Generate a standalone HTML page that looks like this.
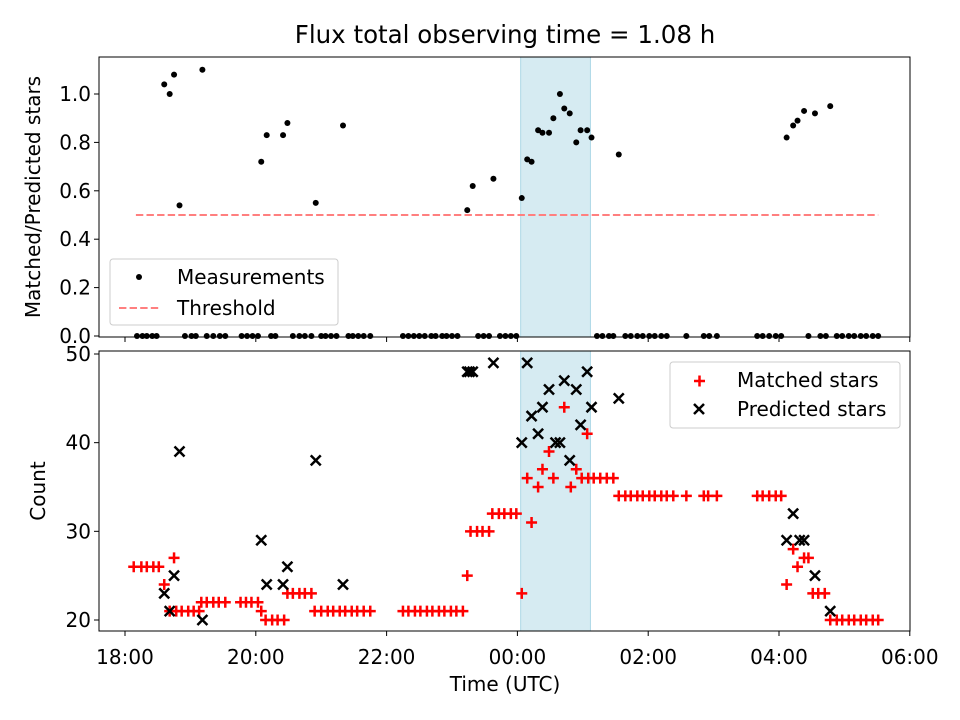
<!DOCTYPE html>
<html><head><meta charset="utf-8"><style>
body{margin:0;background:#fff}
svg{font-family:"DejaVu Sans","Liberation Sans",sans-serif;display:block}
</style></head><body>
<svg id="chart" width="960" height="720" viewBox="0 0 960 720">
<rect width="960" height="720" fill="#fff"/>
<text x="505" y="43" font-size="24.5" text-anchor="middle">Flux total observing time = 1.08 h</text>
<g id="gtop"></g><g id="gbot"></g>
<text x="505" y="691" font-size="20" text-anchor="middle">Time (UTC)</text>
<text transform="translate(40,197) rotate(-90)" font-size="20" text-anchor="middle">Matched/Predicted stars</text>
<text transform="translate(45,491) rotate(-90)" font-size="20" text-anchor="middle">Count</text>
<g font-size="20">
<rect x="110" y="259" width="228" height="66" rx="3" fill="#fff" fill-opacity="0.8" stroke="#ccc"/>
<circle cx="139" cy="277" r="3" fill="#000"/>
<text x="177" y="284">Measurements</text>
<line x1="119" x2="159" y1="308" y2="308" stroke="#ff7f7f" stroke-width="2" stroke-dasharray="7.4,3.2"/>
<text x="177" y="315">Threshold</text>
</g>
<g font-size="20">
<rect x="670" y="362" width="230" height="66" rx="3" fill="#fff" fill-opacity="0.8" stroke="#ccc"/>
<path d="M694,381H705M699.5,375.5V386.5" stroke="#f00" stroke-width="2.5"/>
<text x="737" y="387">Matched stars</text>
<path d="M694,404L704,414M694,414L704,404" stroke="#000" stroke-width="2.5"/>
<text x="737" y="416">Predicted stars</text>
</g>
</svg>
<script>
// times in minutes after 18:00 UTC
const xTickLabels = ["18:00","20:00","22:00","00:00","02:00","04:00","06:00"];
const xTickMinutes = [0,120,240,360,480,600,720];
const ratioTimes = [36,41,45,50,71,125,130,145,149,175,200,314,319,338,364,369,373,379,383,389,393,399,403,408,414,418,424,428,453,607,613,617,623,633,647];
const ratioValues = [1.04,1.00,1.08,0.54,1.10,0.72,0.83,0.83,0.88,0.55,0.87,0.52,0.62,0.65,0.57,0.73,0.72,0.85,0.84,0.84,0.90,1.00,0.94,0.92,0.80,0.85,0.85,0.82,0.75,0.82,0.87,0.89,0.93,0.92,0.95];
const zeroRatioTimes = [11,16,20,25,29,55,61,65,75,81,87,92,107,112,117,122,134,138,154,160,165,171,180,184,189,194,205,209,214,219,225,255,260,265,270,275,281,285,291,295,300,305,324,329,334,344,349,354,359,433,438,444,448,459,464,470,475,481,486,492,497,515,531,536,543,580,585,591,597,602,627,638,643,653,658,664,669,675,680,686,691];
const threshold = 0.5;
const thresholdRange = [10,691];
const shadeRange = [363,427];
const matchedTimes = [8,15,20,26,31,36,45,41,47,52,58,63,68,70,75,81,86,92,106,111,116,122,125,129,135,140,146,149,154,160,165,171,174,180,186,191,197,202,208,213,219,225,255,260,266,271,277,282,288,293,299,304,310,314,317,323,328,334,337,343,348,354,359,364,369,373,379,383,389,393,403,409,414,424,419,425,430,436,442,448,453,459,464,470,475,481,486,492,497,503,515,531,535,543,580,585,591,597,602,607,613,617,623,627,631,636,642,647,653,658,664,669,675,680,686,691];
const matchedValues = [26,26,26,26,26,24,27,21,21,21,21,21,21,22,22,22,22,22,22,22,22,22,21,20,20,20,20,23,23,23,23,23,21,21,21,21,21,21,21,21,21,21,21,21,21,21,21,21,21,21,21,21,21,25,30,30,30,30,32,32,32,32,32,23,36,31,35,37,39,36,44,35,37,41,36,36,36,36,36,36,34,34,34,34,34,34,34,34,34,34,34,34,34,34,34,34,34,34,34,24,28,26,27,27,23,23,23,20,20,20,20,20,20,20,20,20];
const predTimes = [36,41,45,50,71,125,130,145,149,175,200,314,316,319,338,364,369,373,379,383,389,395,399,403,408,414,418,424,428,453,607,613,619,623,633,647];
const predValues = [23,21,25,39,20,29,24,24,26,38,24,48,48,48,49,40,49,43,41,44,46,40,40,47,38,46,42,48,44,45,29,32,29,29,25,21];

const NS="http://www.w3.org/2000/svg";
const L=99,R=910;
const xs=m=>125+m*1.09;
const yTop=v=>336-v*242;
const yBot=v=>620-(v-20)*8.867;
function mk(p,tag,a){const e=document.createElementNS(NS,tag);for(const k in a)e.setAttribute(k,a[k]);p.appendChild(e);return e;}
const gTop=document.getElementById('gtop'), gBot=document.getElementById('gbot');

[[gTop,57,337],[gBot,351,631]].forEach(([g,y0,y1])=>{
  const r=mk(g,'rect',{x:xs(shadeRange[0]),y:y0,width:xs(shadeRange[1])-xs(shadeRange[0]),height:y1-y0,fill:'#add8e6','fill-opacity':0.5,stroke:'#add8e6'});
  
  
});
const th=mk(gTop,'line',{x1:xs(thresholdRange[0]),x2:xs(thresholdRange[1]),y1:yTop(threshold),y2:yTop(threshold),stroke:'#ff7f7f','stroke-width':2,'stroke-dasharray':'7.4,3.2'});


ratioTimes.concat(zeroRatioTimes).forEach((t,i)=>{
  const v=i<ratioTimes.length?ratioValues[i]:0;
  const c=mk(gTop,'circle',{cx:xs(t),cy:yTop(v),r:3,fill:'#000'});
  
  
});
matchedTimes.forEach((t,i)=>{
  const x=xs(t),y=yBot(matchedValues[i]);
  const p=mk(gBot,'path',{d:`M${x-5.5},${y}H${x+5.5}M${x},${y-5.5}V${y+5.5}`,stroke:'#f00','stroke-width':2.5});
  
  
});
predTimes.forEach((t,i)=>{
  const x=xs(t),y=yBot(predValues[i]);
  const p=mk(gBot,'path',{d:`M${x-5},${y-5}L${x+5},${y+5}M${x-5},${y+5}L${x+5},${y-5}`,stroke:'#000','stroke-width':2.5});
  
  
});
[[gTop,57,337],[gBot,351,631]].forEach(([g,y0,y1])=>{
  const f=mk(g,'rect',{x:L,y:y0,width:R-L,height:y1-y0,fill:'none',stroke:'#000','stroke-width':1});
  
  
  xTickMinutes.forEach(m=>{mk(g,'line',{x1:xs(m),x2:xs(m),y1:y1,y2:y1+5,stroke:'#000'});});
});
xTickMinutes.forEach((m,i)=>{
  const t=mk(gBot,'text',{x:xs(m),y:664,'font-size':20,'text-anchor':'middle'});t.textContent=xTickLabels[i];
  
  
});
[0,0.2,0.4,0.6,0.8,1.0].forEach(v=>{
  mk(gTop,'line',{x1:L-5,x2:L,y1:yTop(v),y2:yTop(v),stroke:'#000'});
  const t=mk(gTop,'text',{x:L-8,y:yTop(v)+7,'font-size':20,'text-anchor':'end'});t.textContent=v.toFixed(1);
  
  
});
[20,30,40,50].forEach(v=>{
  mk(gBot,'line',{x1:L-5,x2:L,y1:yBot(v),y2:yBot(v),stroke:'#000'});
  const t=mk(gBot,'text',{x:L-8,y:yBot(v)+7,'font-size':20,'text-anchor':'end'});t.textContent=v;
  
  
});
</script>
</body></html>
